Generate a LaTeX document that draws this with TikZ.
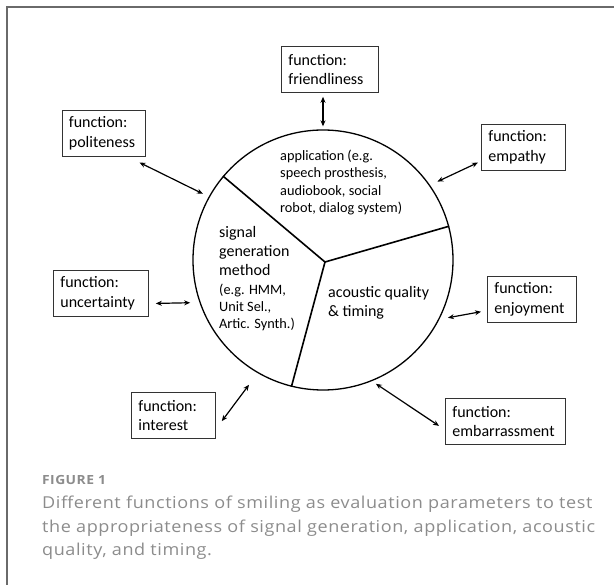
\documentclass[tikz,border=0pt]{standalone}
\usepackage{fontspec}
\setmainfont{Carlito}
\newfontfamily\capfont[LetterSpace=3.5,FakeStretch=1.1]{Open Sans}
\usepackage{xcolor}
\usetikzlibrary{arrows.meta}

\definecolor{framegray}{HTML}{6A6A6A}
\definecolor{capgray}{HTML}{8C8C8C}

\begin{document}
\begin{tikzpicture}
      [ x=1pt, y=-1pt,
        >={Stealth[length=6pt,width=5pt]},
        funcbox/.style={draw=black!80, line width=0.8pt, anchor=north west,
          inner xsep=7pt, inner ysep=0pt, minimum height=46pt, align=left,
          font=\fontsize{16}{19.5}\selectfont},
        sector/.style={inner sep=0pt, anchor=north west, align=left},
        divider/.style={line width=1.6pt},
        link/.style={<->, line width=1.2pt}
      ]
      \useasboundingbox (0,0) rectangle (614,585);
      \draw[framegray, line width=1.3pt] (7,585) -- (7,7) -- (614,7);

      \node[draw, circle, minimum size=260pt, inner sep=0pt, line width=1.3pt] (circ) at (323,260) {};
      \coordinate (hub) at (325,262);
      \draw[divider] (circ.140) -- (hub) -- (circ.15);
      \draw[divider] (hub) -- (circ.256);

      \node[sector, font=\fontsize{14.3}{17.4}\selectfont] (appl) at (280,149.6)
        {application (e.g.\\speech prosthesis,\\audiobook, social\\robot, dialog system)};
      \node[sector, font=\fontsize{16}{19}\selectfont] (sigm) at (219,226.5)
        {signal\\generation\\method\\{\fontsize{14.3}{17}\selectfont (e.g. HMM,}\\[-2pt]
         {\fontsize{14.3}{17}\selectfont Unit Sel.,}\\[-2pt]{\fontsize{14.3}{17}\selectfont Artic. Synth.)}};
      \node[sector, font=\fontsize{16}{19}\selectfont] (acqt) at (328,286.5)
        {acoustic quality\\\& timing};

      \node[funcbox, text width=83pt]  (fri) at (281,46)   {function:\\friendliness};
      \node[funcbox, text width=69.5pt] (pol) at (61.5,110) {function:\\politeness};
      \node[funcbox, text width=70pt]  (emp) at (481,124)  {function:\\empathy};
      \node[funcbox, text width=81pt]  (unc) at (53,270)   {function:\\uncertainty};
      \node[funcbox, text width=75pt]  (enj) at (487,276)  {function:\\enjoyment};
      \node[funcbox, text width=70pt]  (int) at (131,392)  {function:\\interest};
      \node[funcbox, text width=106pt] (emb) at (445,398)  {function:\\embarrassment};

      \draw[link, shorten <=4pt, shorten >=3pt] (circ.north |- fri.south) -- (circ.north);
      \path (pol.-44) edge[link, shorten <=13pt, shorten >=6.5pt] (circ.151)
            (emp.198) edge[link, shorten <=3.4pt, shorten >=8.2pt] (circ.35)
            (unc.348) edge[link, shorten <=7pt, shorten >=9.3pt]   (circ.199)
            (enj.194) edge[link, shorten <=6.1pt, shorten >=8.7pt] (circ.-27)
            (int.-18) edge[link, shorten <=10pt, shorten >=14.5pt] (circ.240)
            (emb.188) edge[link, shorten <=7.2pt, shorten >=4.7pt] (circ.-68);

      \node[anchor=base west, inner sep=0pt, text=capgray, font=\capfont\bfseries\fontsize{12.6}{16}\selectfont]
        (figlbl) at (42,484.3) {FIGURE 1};
      \node[anchor=base west, inner sep=0pt, align=left, text=capgray,
            font=\capfont\fontsize{16.4}{23.8}\selectfont] (figcap) at (42,556)
        {Different functions of smiling as evaluation parameters to test\\
         the appropriateness of signal generation, application, acoustic\\
         quality, and timing.};
\end{tikzpicture}
\end{document}
